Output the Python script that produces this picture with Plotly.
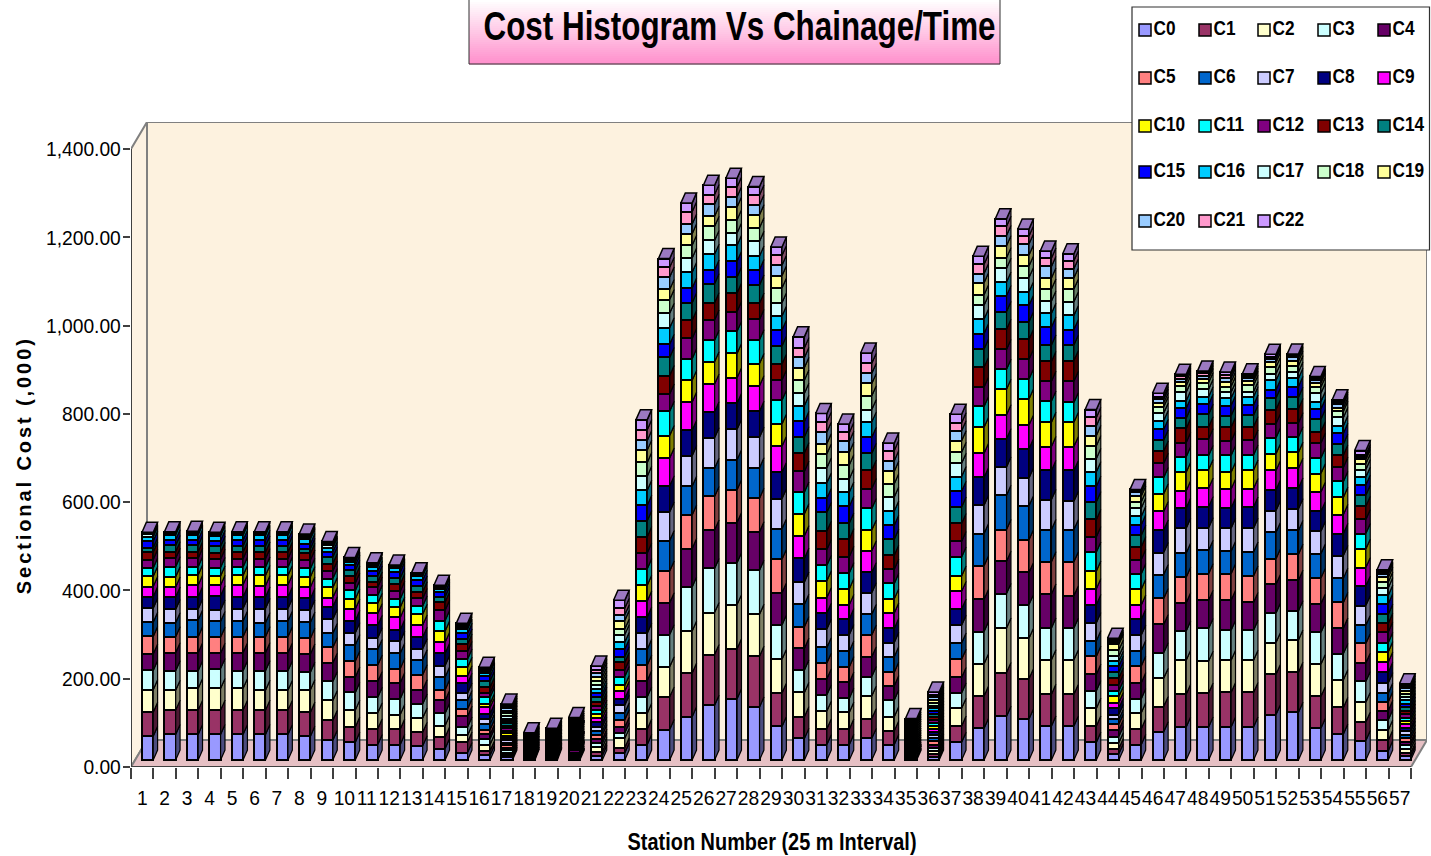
import plotly.graph_objects as go

series_names = ["C%d" % i for i in range(23)]
series_colors = ["#9999FF", "#993366", "#FFFFCC", "#CCFFFF", "#660066", "#FF8080", "#0066CC", "#CCCCFF",
                 "#000080", "#FF00FF", "#FFFF00", "#00FFFF", "#800080", "#800000", "#008080", "#0000FF",
                 "#00CCFF", "#CCFFFF", "#CCFFCC", "#FFFF99", "#99CCFF", "#FF99CC", "#CC99FF"]
y_ticks = [0, 200, 400, 600, 800, 1000, 1200, 1400]

station_01 = [54,54,51,44,37,40,32,32,26,23,23,19,19,17,10,15,10,5,1,1,1,1,1]
station_02 = [58,55,45,44,41,36,32,30,28,23,23,23,19,15,14,13,11,2,1,1,1,1,1]
station_03 = [58,55,49,40,41,36,38,25,28,26,23,19,19,15,14,13,11,2,2,1,1,1,1]
station_04 = [58,55,49,45,35,36,36,26,32,24,21,19,19,15,14,13,11,2,2,1,1,1,1]
station_05 = [58,55,49,40,41,36,36,28,26,28,21,19,19,15,14,13,11,2,2,1,1,1,1]
station_06 = [58,55,45,44,41,36,32,32,26,26,23,19,19,15,14,13,11,2,2,1,1,1,1]
station_07 = [58,55,45,44,41,36,36,28,26,28,21,19,19,15,14,13,11,2,2,1,1,1,1]
station_08 = [54,54,51,40,41,36,36,28,26,26,23,19,19,15,11,11,11,5,2,1,1,1,1]
station_09 = [45,45,45,43,42,35,32,32,28,21,23,20,17,17,15,12,9,5,3,2,2,1,1]
station_10 = [40,35,38,40,35,36,37,27,28,26,23,19,17,15,14,11,8,3,2,2,1,1,1]
station_11 = [35,36,36,35,36,37,36,26,28,27,23,18,19,11,14,11,10,3,2,1,1,1,1]
station_12 = [35,35,33,36,36,32,35,27,26,28,23,19,17,17,13,14,8,2,2,1,1,1,1]
station_13 = [32,31,32,32,32,34,34,25,26,28,24,19,17,15,13,13,10,2,1,1,1,1,1]
station_14 = [26,26,26,28,29,24,29,26,28,25,25,24,23,19,12,10,8,2,2,1,1,1,1]
station_15 = [17,24,15,19,24,17,19,17,22,17,19,19,17,17,11,13,10,3,2,2,2,2,2]
station_16 = [11,10,14,13,10,11,13,10,13,14,9,14,10,13,14,11,8,2,2,2,2,2,2]
station_17 = [6,5,5,6,6,6,5,6,5,5,6,5,6,5,6,5,5,7,6,5,6,5,5]
station_18 = [3,3,2,3,3,3,2,3,3,3,3,2,3,3,3,2,3,3,2,3,3,2,2]
station_19 = [4,3,3,3,3,3,4,3,3,3,3,4,3,3,3,3,3,3,3,3,3,3,3]
station_20 = [5,4,4,4,5,4,4,4,4,5,4,4,4,4,4,5,4,4,4,4,4,4,4]
station_21 = [10,9,10,9,9,10,9,9,10,10,9,9,10,9,10,9,10,9,9,9,9,8,8]
station_22 = [16,12,21,12,13,17,16,17,15,17,13,20,15,17,13,17,16,17,13,19,13,15,18]
station_23 = [35,35,36,37,37,35,36,36,37,36,36,37,36,37,36,35,34,32,31,28,22,24,23]
station_24 = [69,74,68,73,72,72,69,65,59,63,51,55,39,42,41,30,37,33,31,23,28,22,20]
station_25 = [98,99,95,100,87,76,65,69,58,64,49,49,46,41,40,33,36,32,29,26,22,28,20]
station_26 = [124,115,95,100,87,76,64,69,59,63,50,49,46,39,43,31,36,31,32,23,27,22,21]
station_27 = [139,113,100,95,91,74,68,69,59,58,55,50,45,42,36,36,36,28,30,29,23,22,20]
station_28 = [120,115,95,100,87,76,69,69,59,58,50,54,46,37,41,35,31,33,31,29,23,22,19]
station_29 = [76,76,76,78,73,76,69,68,60,59,50,54,46,36,41,36,32,30,33,28,24,22,19]
station_30 = [49,49,55,51,49,49,51,50,54,51,50,49,47,42,36,35,36,28,30,28,23,22,25]
station_31 = [35,36,40,37,36,36,35,42,36,35,38,35,36,42,42,32,35,34,32,23,26,23,19]
station_32 = [35,35,38,32,36,35,36,37,36,32,36,36,37,40,36,38,32,30,32,28,25,20,19]
station_33 = [49,45,51,44,45,49,47,49,46,49,47,49,45,42,38,36,35,28,31,28,23,23,23]
station_34 = [35,31,32,38,32,31,35,32,32,35,32,35,32,32,36,32,32,32,30,28,24,23,17]
station_35 = [5,4,5,4,4,4,4,4,4,4,4,4,4,4,4,4,4,4,4,4,4,4,4]
station_36 = [7,7,7,7,7,7,7,7,7,7,7,6,7,7,7,7,6,6,6,7,6,6,6]
station_37 = [40,37,40,35,35,41,37,40,37,40,35,43,35,41,37,36,33,30,25,26,23,18,19]
station_38 = [72,73,73,73,73,76,73,64,63,55,59,47,44,45,41,35,33,31,24,27,21,21,18]
station_39 = [99,99,101,78,73,72,78,64,64,54,58,45,45,46,40,36,31,31,24,27,23,21,17]
station_40 = [93,91,92,76,73,74,77,63,66,54,59,45,45,45,40,37,31,32,26,25,25,18,16]
station_41 = [77,72,78,72,77,73,73,68,66,54,55,48,45,45,37,41,31,28,27,25,26,19,16]
station_42 = [77,72,78,72,73,77,73,64,70,54,55,45,48,47,35,35,32,31,29,25,21,18,16]
station_43 = [40,37,40,40,37,41,35,41,41,36,40,43,35,39,40,35,33,30,29,23,22,19,18]
station_44 = [14,12,13,14,15,13,11,11,14,13,14,13,14,15,13,14,11,11,14,13,5,5,4]
station_45 = [35,36,36,32,36,38,35,35,36,32,36,35,32,29,26,24,19,19,14,13,8,5,2]
station_46 = [64,57,64,58,64,59,54,50,51,42,40,37,32,28,25,24,20,17,14,9,8,6,8]
station_47 = [75,74,77,66,64,58,55,56,46,39,42,35,32,32,23,23,17,19,15,9,7,5,5]
station_48 = [75,77,72,74,64,60,53,51,48,42,42,32,38,27,28,23,17,17,15,9,7,5,5]
station_49 = [75,78,73,68,68,60,51,52,46,43,38,38,32,32,26,23,17,13,13,11,9,7,6]
station_50 = [75,78,73,68,63,60,54,54,48,42,42,34,34,30,26,23,19,11,15,9,7,5,5]
station_51 = [103,91,72,67,65,58,60,49,47,44,38,36,32,32,26,19,21,15,15,11,8,5,5]
station_52 = [108,91,73,66,69,59,54,49,47,45,36,35,32,32,26,24,19,14,14,11,8,5,3]
station_53 = [72,72,73,72,65,58,55,51,45,44,42,35,34,26,28,23,17,19,14,9,6,5,4]
station_54 = [59,60,63,59,58,58,55,51,50,43,39,36,32,28,25,24,17,19,14,8,8,5,5]
station_55 = [44,42,45,47,42,44,41,45,44,42,42,35,32,30,25,23,18,17,13,10,6,5,9]
station_56 = [21,24,23,23,21,20,20,23,24,23,23,21,24,20,20,24,19,17,13,11,8,5,4]
station_57 = [8,8,9,8,8,8,8,8,8,8,8,7,8,8,8,8,7,7,7,7,6,6,5]

stations = [station_01, station_02, station_03, station_04, station_05, station_06, station_07, station_08,
            station_09, station_10, station_11, station_12, station_13, station_14, station_15, station_16,
            station_17, station_18, station_19, station_20, station_21, station_22, station_23, station_24,
            station_25, station_26, station_27, station_28, station_29, station_30, station_31, station_32,
            station_33, station_34, station_35, station_36, station_37, station_38, station_39, station_40,
            station_41, station_42, station_43, station_44, station_45, station_46, station_47, station_48,
            station_49, station_50, station_51, station_52, station_53, station_54, station_55, station_56,
            station_57]
station_numbers = list(range(1, len(stations) + 1))

W, H = 1431, 856
PX_L, PX_R, PX_T, PX_B = 131, 1427, 122, 767   # plot box in page pixels
PX_PER_X = (1411 - 131) / 57.0                 # pixels per station
PX_PER_Y = (767 - 149) / 1400.0                # pixels per cost unit
DEPTH_X = (PX_R - 1411) / PX_PER_X
DEPTH_Y = 27 / PX_PER_Y
X_MAX = (PX_R - PX_L) / PX_PER_X
Y_MAX = (PX_B - PX_T) / PX_PER_Y
BAR_W = 0.5
BAR_DX = 4.4 / PX_PER_X
BAR_DY = 10 / PX_PER_Y
BASE_PX = 7.0
FACE_PX = 16.6

def darken(c, f):
    r, g, b = int(c[1:3], 16), int(c[3:5], 16), int(c[5:7], 16)
    return "rgb(%d,%d,%d)" % (r * f, g * f, b * f)

fig = go.Figure()
# keeps the main axes alive
fig.add_trace(go.Scatter(x=[None], y=[None], xaxis="x", yaxis="y", showlegend=False, hoverinfo="skip"))

for k, name in enumerate(series_names):
    vals = [row[k] for row in stations]
    fig.add_trace(go.Bar(x=station_numbers, y=vals, name=name, xaxis="x2", yaxis="y2", width=BAR_W,
                         marker=dict(color=series_colors[k], line=dict(color="black", width=2)),
                         showlegend=False))

# side faces and top faces of the prisms, derived from the same values
running = [0] * len(stations)
for k, name in enumerate(series_names):
    xs, ys = [], []
    for i, row in enumerate(stations):
        x0 = station_numbers[i] + BAR_W / 2
        y0, y1 = running[i], running[i] + row[k]
        xs += [x0, x0 + BAR_DX, x0 + BAR_DX, x0, x0, None]
        ys += [y0, y0 + BAR_DY, y1 + BAR_DY, y1, y0, None]
        running[i] = y1
    fig.add_trace(go.Scatter(x=xs, y=ys, mode="lines", fill="toself", xaxis="x2", yaxis="y2",
                             fillcolor=darken(series_colors[k], 0.5), line=dict(color="black", width=1.2),
                             showlegend=False, hoverinfo="skip"))
xs, ys = [], []
for i in range(len(stations)):
    xl, xr, t = station_numbers[i] - BAR_W / 2, station_numbers[i] + BAR_W / 2, running[i]
    xs += [xl, xl + BAR_DX, xr + BAR_DX, xr, xl, None]
    ys += [t, t + BAR_DY, t + BAR_DY, t, t, None]
fig.add_trace(go.Scatter(x=xs, y=ys, mode="lines", fill="toself", xaxis="x2", yaxis="y2",
                         fillcolor="#9B79C1", line=dict(color="black", width=1.5),
                         showlegend=False, hoverinfo="skip"))

# legend drawn on a page-wide overlay
LEG_X = [1145, 1205, 1264, 1324, 1384]
LEG_Y = [30, 78, 126, 172, 221]
for k, name in enumerate(series_names):
    fig.add_trace(go.Scatter(x=[LEG_X[k % 5]], y=[LEG_Y[k // 5]], mode="markers+text", xaxis="x3", yaxis="y3",
                             marker=dict(symbol="square", size=12, color=series_colors[k],
                                         line=dict(color="black", width=1.5)),
                             text=[name], textposition="middle right", name=name,
                             textfont=dict(family="Liberation Sans", size=21, color="black", weight="bold"),
                             showlegend=False, hoverinfo="skip"))

shapes = []
def poly(pts):
    return "M " + " L ".join("%f,%f" % p for p in pts) + " Z"
WALL = "#FDF2DF"
shapes.append(dict(type="path", xref="x", yref="y", layer="below",
                   path=poly([(0, 0), (DEPTH_X, DEPTH_Y), (DEPTH_X, Y_MAX), (0, 1400)]),
                   fillcolor="#FDF2E2", line=dict(color="#808080", width=2)))
shapes.append(dict(type="path", xref="x", yref="y", layer="below",
                   path=poly([(DEPTH_X, DEPTH_Y), (X_MAX, DEPTH_Y), (X_MAX, Y_MAX), (DEPTH_X, Y_MAX)]),
                   fillcolor=WALL, line=dict(color="#808080", width=2)))
shapes.append(dict(type="path", xref="x", yref="y", layer="below",
                   path=poly([(0, 0), (57, 0), (X_MAX, DEPTH_Y), (DEPTH_X, DEPTH_Y)]),
                   fillcolor="#E6C0C4", line=dict(color="#808080", width=2)))
shapes.append(dict(type="line", xref="x", yref="y", x0=0, x1=57, y0=0, y1=0, layer="below",
                   line=dict(color="#404040", width=2)))
shapes.append(dict(type="line", xref="x", yref="y", x0=0, x1=0, y0=0, y1=1400, layer="below",
                   line=dict(color="#404040", width=2)))

# title plate with white-to-pink gradient, legend box
GRAD = 32
for j in range(GRAD):
    f = j / (GRAD - 1)
    c = "rgb(255,%d,%d)" % (255 - 110 * f, 255 - 50 * f)
    shapes.append(dict(type="rect", xref="x3", yref="y3", layer="below",
                       x0=469, x1=1000, y0=64 * j / GRAD, y1=64 * (j + 1) / GRAD + 0.5,
                       fillcolor=c, line=dict(width=0)))
shapes.append(dict(type="rect", xref="x3", yref="y3", layer="below", x0=469, x1=1000, y0=-2, y1=64,
                   fillcolor="rgba(0,0,0,0)", line=dict(color="#303030", width=1)))
shapes.append(dict(type="rect", xref="x3", yref="y3", layer="below", x0=1132, x1=1429.5, y0=7, y1=250,
                   fillcolor="white", line=dict(color="#303030", width=1.2)))

BOLD = dict(family="Liberation Sans", color="black", weight="bold")
annotations = [
    dict(text="Cost Histogram Vs Chainage/Time", xref="x3", yref="y3", x=739, y=26, showarrow=False,
         font=dict(size=41, **BOLD)),
    dict(text="Station Number (25 m Interval)", xref="x3", yref="y3", x=772, y=841, showarrow=False,
         font=dict(size=24, **BOLD)),
    dict(text="Sectional Cost (,000)", xref="x3", yref="y3", x=24, y=467, showarrow=False, textangle=-90,
         font=dict(size=20, **BOLD)),
]

axis_font = dict(family="Liberation Sans", size=21, color="black")
fig.update_layout(
    width=W, height=H, autosize=False, margin=dict(l=0, r=0, t=0, b=0, autoexpand=False), paper_bgcolor="white",
    plot_bgcolor="rgba(0,0,0,0)", barmode="stack", bargap=0, showlegend=False, shapes=shapes, annotations=annotations,
    xaxis=dict(domain=[PX_L / W, PX_R / W], range=[0, X_MAX], showgrid=False, zeroline=False, showline=False,
               tickmode="array", tickvals=[n - 0.5 for n in station_numbers], ticktext=[str(n) for n in station_numbers],
               ticks="", ticklabelstandoff=16, tickangle=0, tickfont=axis_font,
               minor=dict(tickmode="array", tickvals=[0] + station_numbers, ticks="outside", ticklen=11,
                          tickcolor="#404040", tickwidth=1.5), fixedrange=True),
    yaxis=dict(domain=[1 - PX_B / H, 1 - PX_T / H], range=[0, Y_MAX], showgrid=False, zeroline=False, showline=False,
               tickmode="array", tickvals=y_ticks, tickformat=",.2f", ticks="outside", ticklen=7, tickcolor="#404040",
               tickwidth=1.5, tickfont=axis_font, ticklabelstandoff=-2, fixedrange=True),
    xaxis2=dict(overlaying="x", range=[1 - FACE_PX / PX_PER_X, 1 - FACE_PX / PX_PER_X + X_MAX], visible=False,
                fixedrange=True),
    yaxis2=dict(overlaying="y", range=[-BASE_PX / PX_PER_Y, Y_MAX - BASE_PX / PX_PER_Y], visible=False, fixedrange=True),
    xaxis3=dict(domain=[0, 1], range=[0, W], visible=False, fixedrange=True, anchor="y3"),
    yaxis3=dict(domain=[0, 1], range=[H, 0], visible=False, fixedrange=True, anchor="x3"),
)

# condense the text the way the original's narrow lettering looks; the letter-spaced y title is widened instead
POST = """
document.body.style.margin='0';document.body.style.overflow='hidden';
function fit(sel,f){document.querySelectorAll(sel).forEach(function(t){
  t.setAttribute('textLength',t.getComputedTextLength()*f);t.setAttribute('lengthAdjust','spacingAndGlyphs');});}
fit('.xtick text',0.915);fit('.ytick text',0.915);fit('.textpoint text',0.82);
document.querySelectorAll('.annotation-text').forEach(function(t){
  var s=t.textContent;
  if(s.indexOf('Cost Histogram')==0){t.setAttribute('textLength',512);t.setAttribute('lengthAdjust','spacingAndGlyphs');}
  if(s.indexOf('Station')==0){t.setAttribute('textLength',289);t.setAttribute('lengthAdjust','spacingAndGlyphs');}
  if(s.indexOf('Sectional')==0){t.setAttribute('textLength',255);t.setAttribute('lengthAdjust','spacing');}
});
"""
fig.write_html("out.html", post_script=POST, config=dict(displayModeBar=False))
